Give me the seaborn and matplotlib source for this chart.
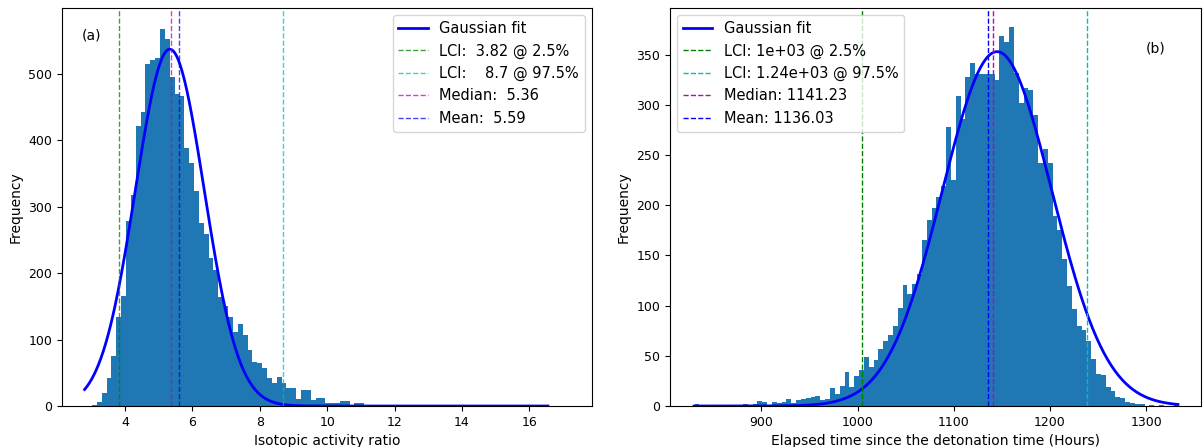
import numpy as np
import pandas as pd
import matplotlib
matplotlib.use("Agg")
import matplotlib.pyplot as plt
import seaborn as sns

# ---- (a) isotopic activity ratio: histogram counts per bin ----
ratio_bin_start = 2.874
ratio_bin_width = 0.1443
ratio_counts = [
    0, 2, 6, 20, 42, 75, 134, 166, 278, 318,
    422, 443, 514, 521, 524, 567, 552, 495, 469, 467,
    389, 366, 324, 276, 259, 222, 205, 164, 151, 134,
    112, 124, 107, 84, 66, 65, 57, 42, 35, 44,
    35, 27, 27, 11, 24, 24, 9, 12, 12, 5,
    4, 4, 7, 7, 1, 4, 4, 2, 2, 2,
    2, 2, 1, 2, 0, 2, 0, 1, 0, 0,
    2, 2, 1, 0, 0, 1, 0, 0, 1, 0,
    0, 0, 0, 1, 0, 0, 0, 1, 0, 0,
    1, 0, 0, 0, 1, 0, 0, 0, 0, 0,
]
ratio_fit = dict(amp=537.0, mu=5.33, sigma=1.02, xmin=2.80, xmax=16.55)
ratio_lci_low, ratio_lci_high = 3.82, 8.70
ratio_median, ratio_mean = 5.36, 5.59
ratio_labels = ["LCI:  3.82 @ 2.5%", "LCI:    8.7 @ 97.5%",
                "Median:  5.36", "Mean:  5.59"]

# ---- (b) elapsed time: histogram counts per bin ----
time_bin_start = 830.5
time_bin_width = 5.03
time_counts = [
    2, 0, 0, 0, 0, 1, 0, 0, 0, 0,
    2, 1, 2, 5, 4, 1, 4, 3, 4, 7,
    3, 6, 7, 8, 9, 10, 6, 7, 18, 12,
    20, 34, 19, 30, 36, 49, 39, 46, 57, 65,
    71, 80, 98, 121, 112, 122, 132, 165, 185, 197,
    208, 219, 278, 225, 309, 286, 328, 342, 331, 331,
    331, 331, 325, 369, 363, 378, 332, 302, 317, 315,
    290, 242, 256, 242, 189, 175, 146, 120, 97, 80,
    76, 65, 47, 32, 31, 19, 15, 9, 8, 4,
    3, 2, 2, 0, 1, 0, 1, 0, 0, 1,
]
time_fit = dict(amp=353.0, mu=1145.0, sigma=57.0, xmin=830.0, xmax=1333.0)
time_lci_low, time_lci_high = 1004.6, 1238.4
time_median, time_mean = 1141.23, 1136.03
time_labels = ["LCI: 1e+03 @ 2.5%", "LCI: 1.24e+03 @ 97.5%",
               "Median: 1141.23", "Mean: 1136.03"]

BAR = "#1f77b4"


def gaussian(x, amp, mu, sigma):
    return amp * np.exp(-((x - mu) ** 2) / (2 * sigma ** 2))


def draw_hist(ax, start, width, counts):
    counts = np.asarray(counts, dtype=float)
    edges = start + width * np.arange(len(counts) + 1)
    centers = 0.5 * (edges[:-1] + edges[1:])
    df = pd.DataFrame({"value": centers, "count": counts})
    sns.histplot(data=df, x="value", weights="count", bins=edges.tolist(),
                 ax=ax, color=BAR, alpha=1.0, linewidth=0)


def draw_fit(ax, fit):
    xs = np.linspace(fit["xmin"], fit["xmax"], 400)
    ax.plot(xs, gaussian(xs, fit["amp"], fit["mu"], fit["sigma"]),
            color="blue", lw=2, label="Gaussian fit")


def draw_markers(ax, values, labels, **kw):
    for v, lab, col in zip(values, labels, ["g", "c", "m", "b"]):
        ax.axvline(v, color=col, ls="--", lw=1.0, label=lab, **kw)


fig = plt.figure(figsize=(12.04, 4.47), dpi=100)
ax1 = fig.add_axes([62 / 1204, 1 - 406 / 447, 530 / 1204, 398 / 447])
ax2 = fig.add_axes([670 / 1204, 1 - 406 / 447, 531 / 1204, 398 / 447])

# panel (a)
draw_hist(ax1, ratio_bin_start, ratio_bin_width, ratio_counts)
draw_fit(ax1, ratio_fit)
draw_markers(ax1, [ratio_lci_low, ratio_lci_high, ratio_median, ratio_mean],
             ratio_labels, alpha=0.75)
ax1.set_xlim(2.13, 17.86)
ax1.set_ylim(0, 599)
ax1.set_xlabel("Isotopic activity ratio", fontsize=10)
ax1.set_ylabel("Frequency", fontsize=10)
ax1.legend(loc="upper right", fontsize=10.5)
ax1.text(0.038, 0.93, "(a)", transform=ax1.transAxes, fontsize=10,
         ha="left", va="center")

# panel (b)
draw_hist(ax2, time_bin_start, time_bin_width, time_counts)
draw_fit(ax2, time_fit)
draw_markers(ax2, [time_lci_low, time_lci_high, time_median, time_mean],
             time_labels)
ax2.set_xlim(805, 1357)
ax2.set_ylim(0, 396.5)
ax2.set_xlabel("Elapsed time since the detonation time (Hours)", fontsize=10)
ax2.set_ylabel("Frequency", fontsize=10)
ax2.legend(loc="upper left", fontsize=10.5)
ax2.text(0.915, 0.897, "(b)", transform=ax2.transAxes, fontsize=10,
         ha="center", va="center")

for ax in (ax1, ax2):
    ax.tick_params(labelsize=9)

fig.savefig("out.png", dpi=100)
